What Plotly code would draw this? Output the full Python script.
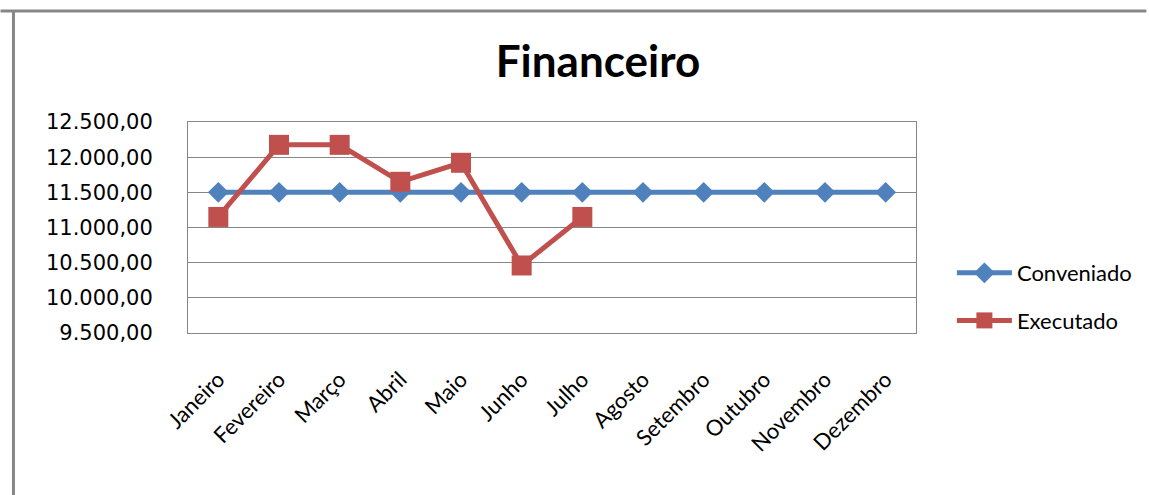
import plotly.graph_objects as go

meses = ["Janeiro", "Fevereiro", "Março", "Abril", "Maio", "Junho", "Julho",
         "Agosto", "Setembro", "Outubro", "Novembro", "Dezembro"]
conveniado = [11500] * 12
executado = [11150, 12175, 12175, 11650, 11920, 10460, 11150]

tick_vals = [9500, 10000, 10500, 11000, 11500, 12000, 12500]
tick_text = ["9.500,00", "10.000,00", "10.500,00", "11.000,00",
             "11.500,00", "12.000,00", "12.500,00"]

W, H = 1149, 495
L, R, T, B = 188, 231, 122, 162

fig = go.Figure()

fig.add_trace(go.Scatter(
    x=meses, y=conveniado, name="Conveniado", mode="lines+markers",
    legendgroup="a",
    line=dict(color="#4F81BD", width=5),
    marker=dict(symbol="diamond", size=16, color="#4F81BD"),
))
fig.add_trace(go.Scatter(
    x=meses[:len(executado)], y=executado, name="Executado", mode="lines+markers",
    legendgroup="b",
    line=dict(color="#C0504D", width=5),
    marker=dict(symbol="square", size=20, color="#C0504D"),
))

# moldura cinza (topo e esquerda)
pw, ph = W - L - R, H - T - B
def px(x): return (x - L) / pw
def py(y): return (H - B - y) / ph
fig.add_shape(type="line", xref="paper", yref="paper",
              x0=px(0), x1=px(W), y0=py(11), y1=py(11),
              line=dict(color="#878787", width=3))
fig.add_shape(type="line", xref="paper", yref="paper",
              x0=px(13), x1=px(13), y0=py(11), y1=py(H),
              line=dict(color="#878787", width=3))

fig.update_layout(
    width=W, height=H,
    margin=dict(l=L, r=R, t=T, b=B),
    paper_bgcolor="white", plot_bgcolor="white",
    title=dict(text="<b>Financeiro</b>", x=598 / W, xanchor="center",
               y=1 - 62 / H, yanchor="middle",
               font=dict(family="Lato", size=44, color="black")),
    xaxis=dict(
        type="category", tickangle=-45, showgrid=False,
        showline=True, linecolor="#868686", linewidth=1, mirror=True,
        ticks="", ticklabelstandoff=24,
        tickfont=dict(family="Lato", size=22, color="black"),
        range=[-0.5, 11.5],
    ),
    yaxis=dict(
        range=[9500, 12500], tickvals=tick_vals, ticktext=tick_text,
        showgrid=True, gridcolor="#868686", gridwidth=1,
        showline=True, linecolor="#868686", linewidth=1, mirror=True,
        ticks="", ticklabelstandoff=30, zeroline=False,
        tickfont=dict(family="DejaVu Sans", size=21, color="black"),
    ),
    legend=dict(x=px(954), xanchor="left", y=py(297), yanchor="middle",
                font=dict(family="Lato", size=22, color="black"),
                itemwidth=55, tracegroupgap=16, bgcolor="rgba(0,0,0,0)"),
    showlegend=True,
)

fig.write_html("out.html", config={"displayModeBar": False},
               post_script="document.body.style.margin='0';")
